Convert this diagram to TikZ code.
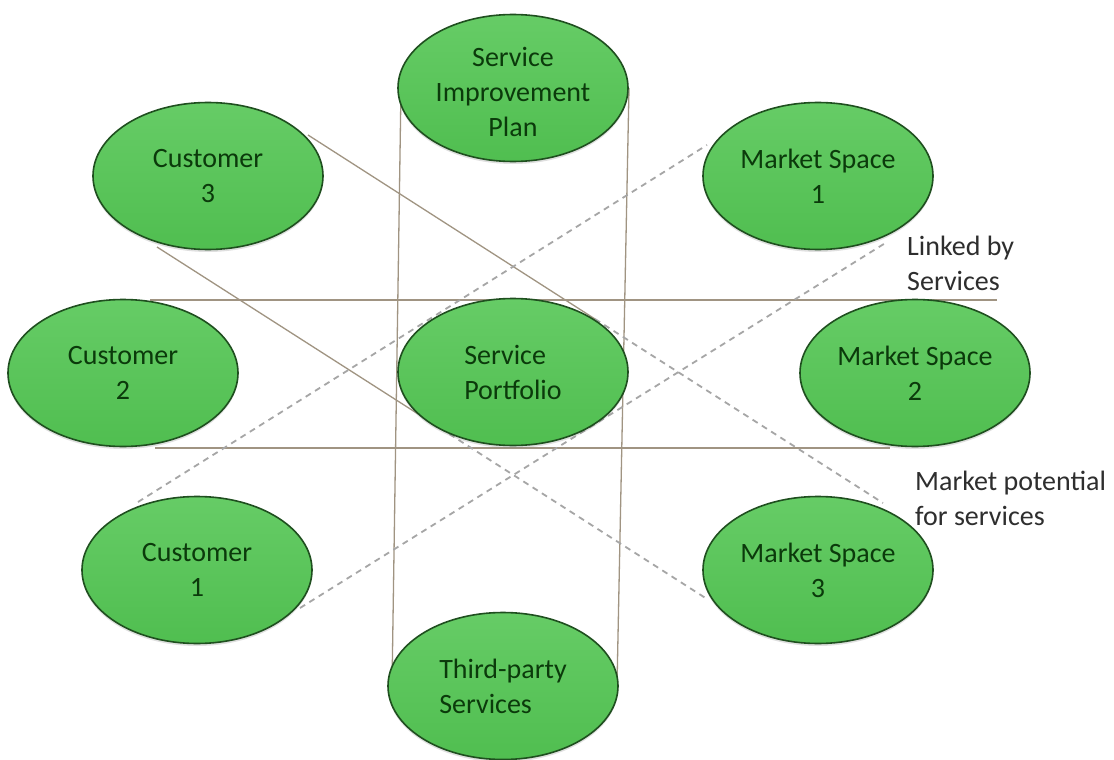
\documentclass[tikz,border=0pt]{standalone}
\usepackage{fontspec}
\setmainfont{Carlito}
\usetikzlibrary{shapes.geometric,shadows}
\definecolor{ellfill}{HTML}{50BE50}
\definecolor{ellfilltop}{HTML}{66CC66}
\definecolor{elldraw}{HTML}{1F4F1F}
\definecolor{elltext}{HTML}{0B3A0B}
\definecolor{solidline}{HTML}{A09482}
\definecolor{dashline}{HTML}{A6A6A6}
\definecolor{labeltext}{HTML}{2E2E2E}
\tikzset{
  ell/.style={ellipse, draw=elldraw, line width=1.6pt, top color=ellfilltop, bottom color=ellfill,
    minimum width=230pt, minimum height=147pt, inner sep=0pt,
    font=\fontsize{28}{35}\selectfont, text=elltext,
    drop shadow={shadow xshift=0pt, shadow yshift=-2.5pt, opacity=0.25}},
  link/.style={draw=solidline, line width=1.3pt},
  dlink/.style={draw=dashline, line width=1.8pt, dash pattern=on 6pt off 5pt},
  lbl/.style={font=\fontsize{28}{35}\selectfont, text=labeltext, align=left, anchor=north west, inner sep=0pt}
}
\begin{document}
\begin{tikzpicture}[x=1pt,y=-1pt]
\useasboundingbox[fill=white] (0,0) rectangle (1114,760);
% connector end points
\coordinate (s1a) at (401,88);  \coordinate (s1b) at (392,686);
\coordinate (s2a) at (629,88);  \coordinate (s2b) at (617,686);
\coordinate (s3a) at (150,300); \coordinate (s3b) at (997,300);
\coordinate (s4a) at (155,448); \coordinate (s4b) at (890,448);
\coordinate (aa) at (308,135);  \coordinate (am) at (595,319); \coordinate (ab) at (883,503);
\coordinate (ba) at (157,247);  \coordinate (bm) at (440,428); \coordinate (bb) at (707,599);
\coordinate (da) at (138,502);  \coordinate (db) at (707,145);
\coordinate (ea) at (300,608);  \coordinate (eb) at (887,242);
% connectors
\draw[link] (s1a) -- (s1b);
\draw[link] (s2a) -- (s2b);
\draw[link] (s3a) -- (s3b);
\draw[link] (s4a) -- (s4b);
\draw[link] (aa) -- (am);
\draw[dlink] (am) -- (ab);
\draw[link] (ba) -- (bm);
\draw[dlink] (bm) -- (bb);
\draw[dlink] (da) -- (db);
\draw[dlink] (ea) -- (eb);
% ellipses
\node[ell, align=center] (sip) at (513,88) {\rule{0pt}{27pt}Service\\Improvement\\Plan};
\node[ell, align=center] (c3) at (208,176) {Customer\\3};
\node[ell, align=center] (ms1) at (818,176) {Market Space\\1};
\node[ell, align=center] (c2) at (123,373) {Customer\\2};
\node[ell, align=left] (sp) at (513,372) {Service\\Portfolio};
\node[ell, align=center] (ms2) at (915,373) {Market Space\\2};
\node[ell, align=center] (c1) at (197,570) {Customer\\1};
\node[ell, align=center] (ms3) at (818,570) {Market Space\\3};
\node[ell, align=left] (tps) at (503,686) {Third-party\\Services};
% labels
\node[lbl] (l1) at (907,236) {Linked by\\Services};
\node[lbl] (l2) at (915,471) {Market potential\\for services};
\end{tikzpicture}
\end{document}
